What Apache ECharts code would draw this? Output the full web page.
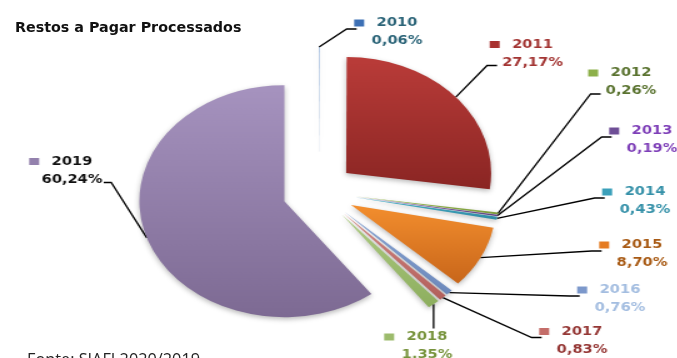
<!DOCTYPE html>
<html>
<head>
<meta charset="utf-8">
<script src="https://cdn.jsdelivr.net/npm/echarts@6/dist/echarts.min.js"></script>
<style>
  html, body { margin: 0; padding: 0; background: #fff; }
  #frame { position: relative; width: 677px; height: 358px; overflow: hidden; }
  #texts { position: absolute; left: 0; top: 0; width: 677px; height: 358px; }
  /* the pie is drawn as an ellipse: the chart is laid out narrow and widened */
  #pie { position: absolute; left: 0; top: 0; width: 542px; height: 358px;
         transform: scaleX(1.25); transform-origin: 0 0; }
</style>
</head>
<body>
<div id="frame">
  <div id="texts"></div>
  <div id="pie"></div>
</div>
<script>
// Restos a Pagar Processados: share of each inscription year (%)
const years  = ['2010', '2011', '2012', '2013', '2014', '2015', '2016', '2017', '2018', '2019'];
const shares = [0.06, 27.17, 0.26, 0.19, 0.43, 8.70, 0.76, 0.83, 1.35, 60.24];

// slice gradients (top -> bottom), legend key colours and label text colours
const fillTop    = ['#5B8BC9', '#BA3C39', '#A4C45C', '#8A6CB0', '#4FB3CC', '#F38E2E', '#8BA7D6', '#D58783', '#AECB83', '#A693BF'];
const fillBottom = ['#3C6AA8', '#8A2523', '#7E9E3C', '#64478A', '#2C8AA3', '#C8661A', '#6D89BC', '#B3605C', '#8DAE5E', '#7D6A93'];
const keyColors  = ['#3D70B5', '#A83230', '#8DB04A', '#6E4E96', '#3BA0BA', '#E57B22', '#7C98CB', '#C46D69', '#9CBB6C', '#9381AD'];
const textColors = ['#2B6478', '#A33533', '#5A7330', '#7E3FB8', '#3490A8', '#A85A14', '#A3BDE0', '#953735', '#77933C', '#111111'];

// pie geometry (in the un-widened chart space)
const SX = 1.25;          // horizontal stretch of the pie container
const CENTER = [255, 192];
const RADIUS = 116;
const EXPLODE = 29;

// where each two-line label sits on the page, and which side its leader enters
const LABEL_SPOTS = [
  { x: 397,   y: 32,    attach: 'left' },
  { x: 532.5, y: 53.5,  attach: 'leftLow' },
  { x: 631,   y: 82,    attach: 'leftLow' },
  { x: 652,   y: 140,   attach: 'left' },
  { x: 645,   y: 201,   attach: 'left' },
  { x: 642,   y: 254,   attach: 'left' },
  { x: 620,   y: 299,   attach: 'left' },
  { x: 582,   y: 340.5, attach: 'left' },
  { x: 427,   y: 346,   attach: 'top' },
  { x: 72,    y: 170.5, attach: 'rightLow' }
];

const pct = v => v.toFixed(2).replace('.', ',') + '%';

const LABEL_FAMILY = '"DejaVu Sans Condensed", "DejaVu Sans", sans-serif';
const LABEL_SIZE = 13;
const labelFont = { fontFamily: LABEL_FAMILY, fontWeight: 'bold', fontSize: LABEL_SIZE };

// width of a text run in the label font
const measureCtx = document.createElement('canvas').getContext('2d');
measureCtx.font = 'bold ' + LABEL_SIZE + 'px ' + LABEL_FAMILY;
const textWidth = s => measureCtx.measureText(s).width;

const rich = {
  gap: { width: 10, height: 7 },
  pad: { width: 18, height: 7 },
  yr: Object.assign({ lineHeight: 18 }, labelFont),
  val: Object.assign({ lineHeight: 18 }, labelFont)
};
keyColors.forEach((c, i) => {
  rich['k' + i] = { width: 8, height: 7, backgroundColor: c };
});

// exploded slices
const sliceData = years.map((y, i) => ({
  name: y,
  value: shares[i],
  selected: true,
  itemStyle: {
    color: new echarts.graphic.LinearGradient(0, 0, 0, 1, [
      { offset: 0, color: fillTop[i] },
      { offset: 1, color: fillBottom[i] }
    ])
  }
}));

// invisible companion ring whose rim follows the exploded slices' outer arcs;
// it carries the labels and their leader lines
const labelData = years.map((y, i) => ({
  name: y,
  value: shares[i],
  label: { color: textColors[i] }
}));

function leaderLayout(p) {
  const spot = LABEL_SPOTS[p.dataIndex];
  const cx = spot.x / SX, cy = spot.y;
  const w = p.labelRect.width, h = p.labelRect.height;
  const left = cx - w / 2, top = cy - h / 2;
  const pw = textWidth(pct(shares[p.dataIndex]));
  const start = p.labelLinePoints ? p.labelLinePoints[0] : [cx, cy];
  let end, bend;
  if (spot.attach === 'left') {
    end = [left - 7, cy - 3];
    bend = [end[0] - 8, end[1]];
  } else if (spot.attach === 'leftLow') {
    end = [cx - pw / 2 - 4, cy + 12];
    bend = [end[0] - 8, end[1]];
  } else if (spot.attach === 'rightLow') {
    end = [cx + pw / 2 + 1, cy + 12];
    bend = [end[0] + 6, end[1]];
  } else {
    end = [start[0], top - 2];
    bend = [start[0], (start[1] + end[1]) / 2];
  }
  return {
    x: cx, y: cy, align: 'center', verticalAlign: 'middle',
    labelLinePoints: [start, bend, end]
  };
}

const pieChart = echarts.init(document.getElementById('pie'));
pieChart.setOption({
  animation: false,
  series: [
    {
      type: 'pie',
      center: CENTER,
      radius: RADIUS,
      startAngle: 90,
      clockwise: true,
      selectedMode: 'multiple',
      selectedOffset: EXPLODE,
      silent: true,
      itemStyle: {
        borderWidth: 0,
        shadowBlur: 5,
        shadowOffsetY: 2,
        shadowColor: 'rgba(0,0,0,0.28)'
      },
      label: { show: false },
      labelLine: { show: false },
      data: sliceData
    },
    {
      type: 'pie',
      center: CENTER,
      radius: RADIUS + EXPLODE,
      startAngle: 90,
      clockwise: true,
      silent: true,
      avoidLabelOverlap: false,
      itemStyle: { color: 'rgba(0,0,0,0)', borderWidth: 0 },
      label: {
        show: true,
        position: 'outside',
        align: 'center',
        formatter: p => '{k' + p.dataIndex + '|}{gap|}{yr|' + p.name + '}{pad|}\n{val|' + pct(p.value) + '}',
        rich: rich
      },
      labelLine: {
        show: true,
        length: 10,
        length2: 8,
        lineStyle: { color: '#000', width: 1.3 }
      },
      labelLayout: leaderLayout,
      data: labelData
    }
  ]
});

const textChart = echarts.init(document.getElementById('texts'));
textChart.setOption({
  animation: false,
  title: [
    {
      text: 'Restos a Pagar Processados',
      left: 15, top: 21, padding: 0,
      textStyle: { fontFamily: 'DejaVu Sans', fontWeight: 'bold', fontSize: 14.3, color: '#111' }
    },
    {
      text: 'Fonte: SIAFI 2020/2019',
      left: 27, top: 352, padding: 0,
      textStyle: { fontFamily: 'Open Sans', fontWeight: 'normal', fontSize: 16.3, color: '#222' }
    }
  ]
});
</script>
</body>
</html>
